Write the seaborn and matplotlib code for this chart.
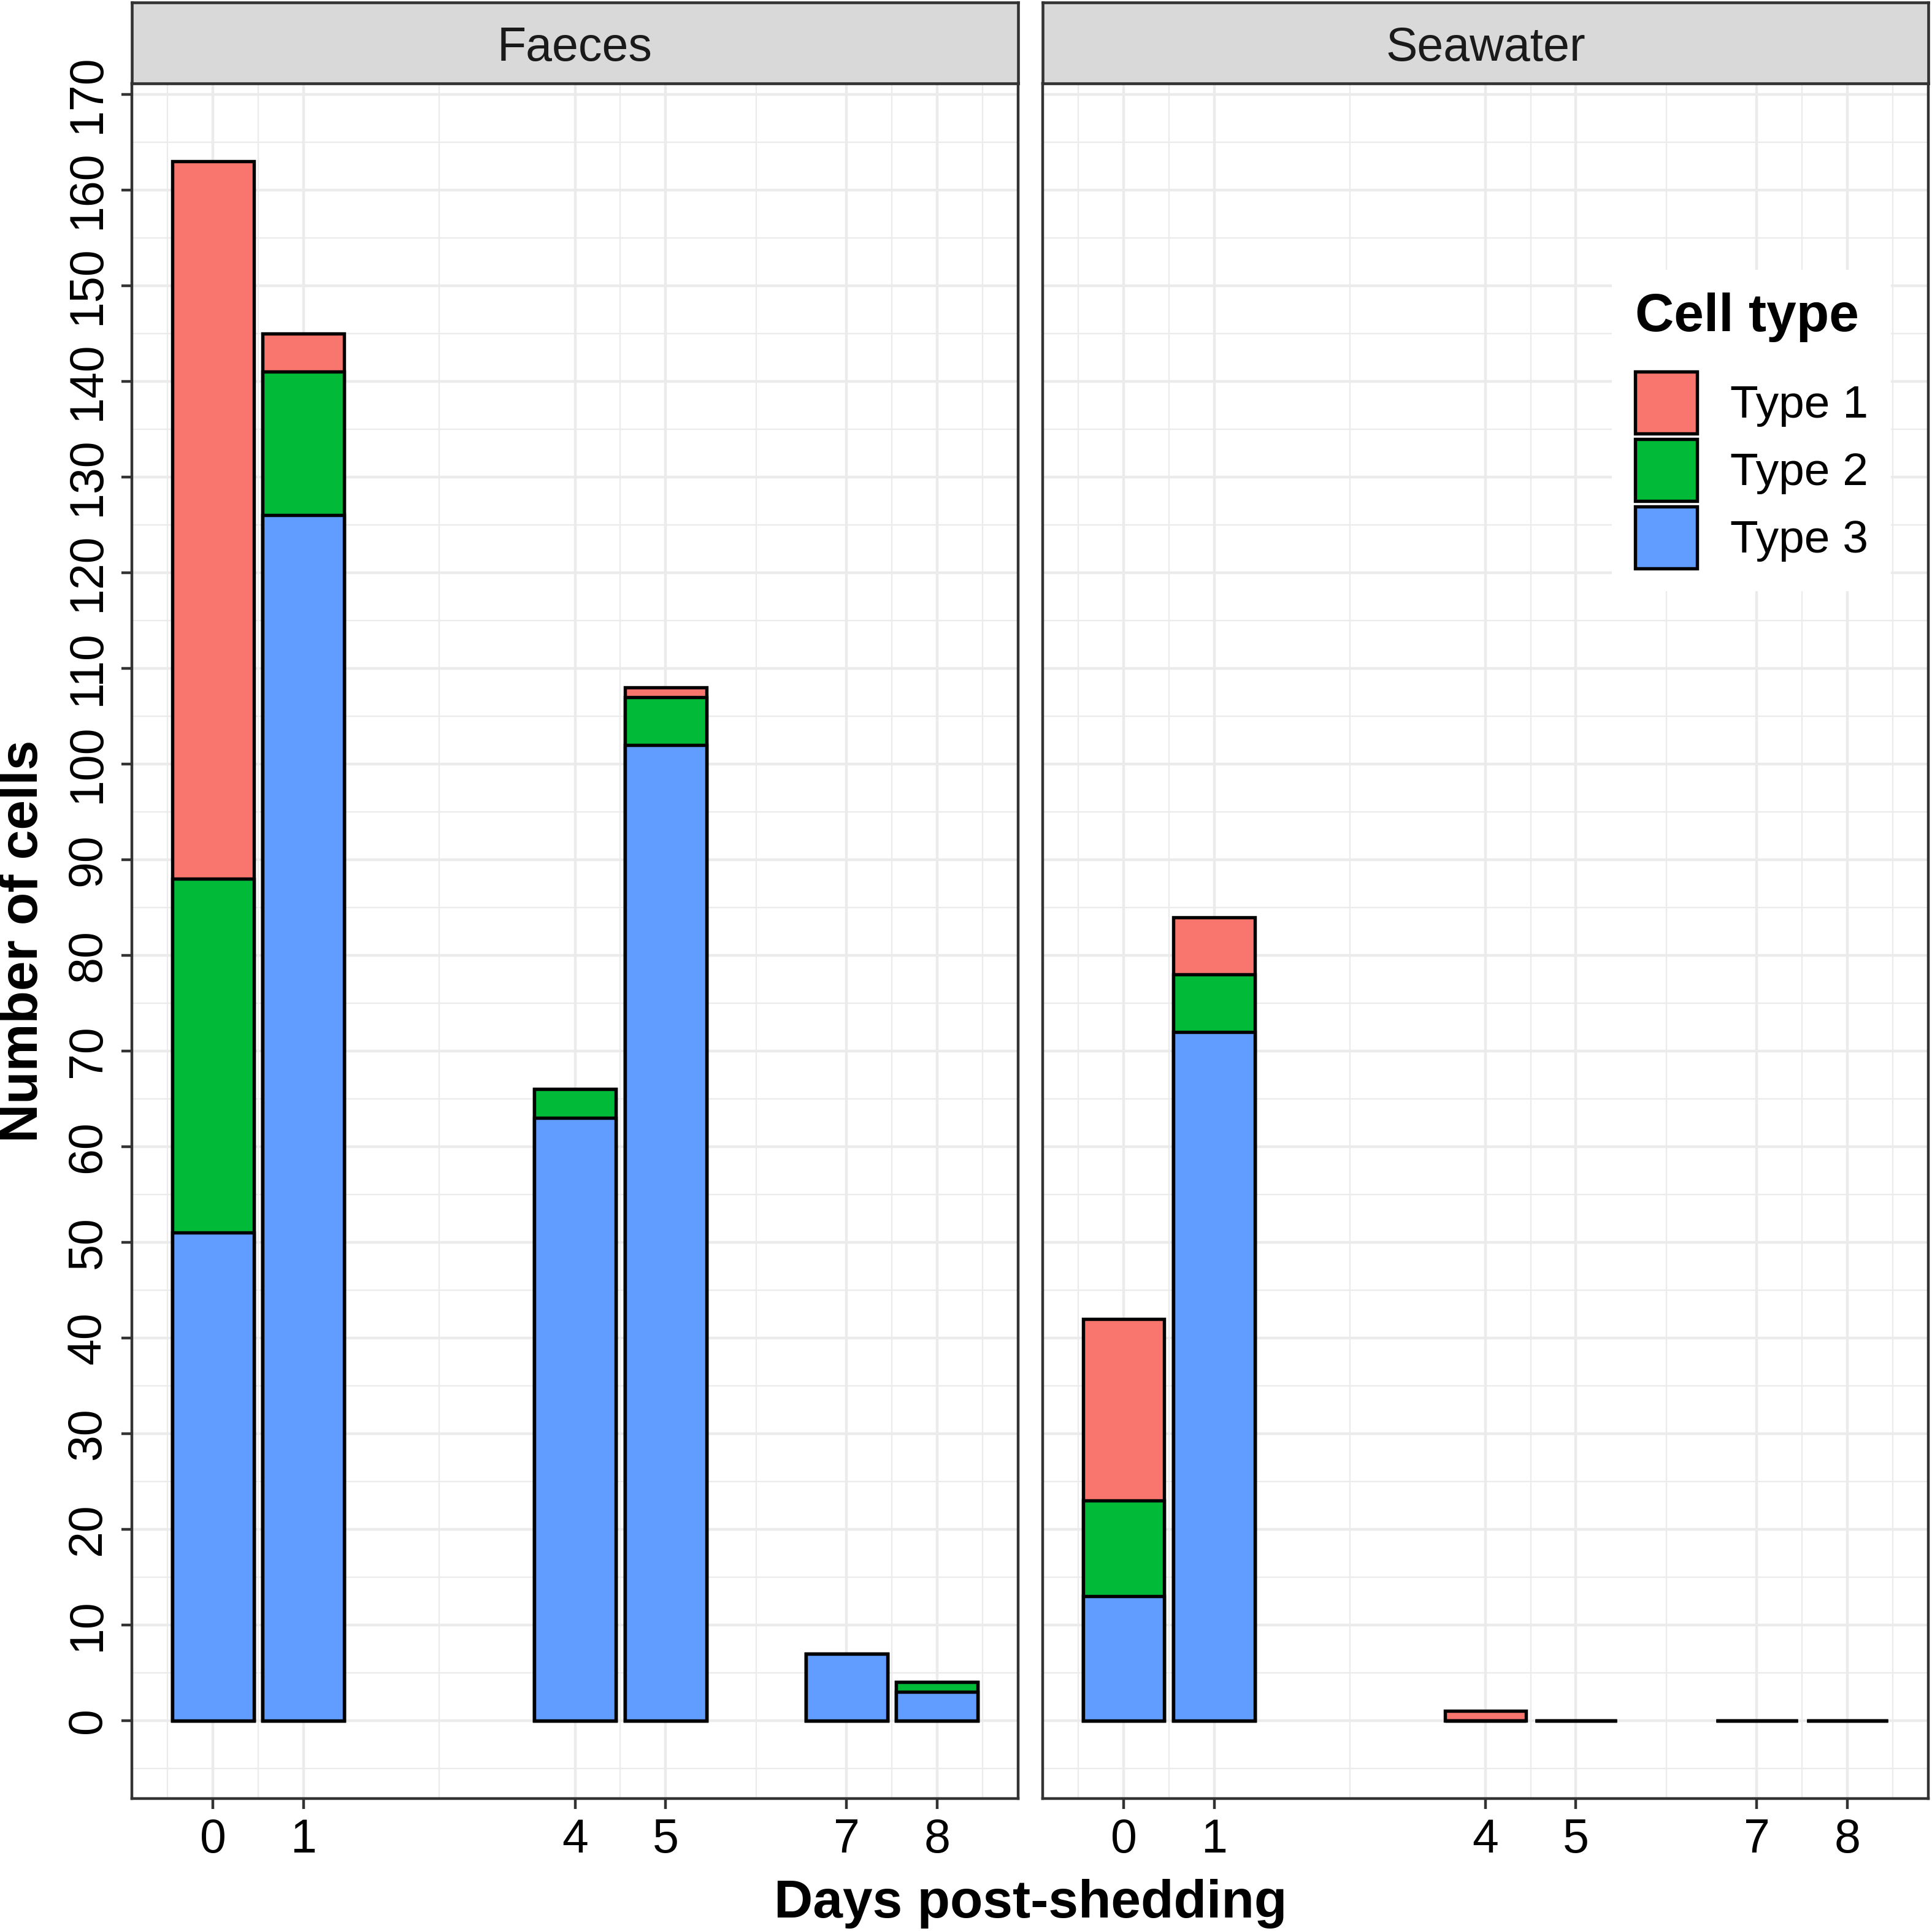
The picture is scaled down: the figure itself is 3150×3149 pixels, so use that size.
import numpy as np
import pandas as pd
import matplotlib
matplotlib.use("Agg")
import matplotlib.pyplot as plt
import seaborn as sns
from matplotlib.patches import Patch

# ---------------- data ----------------
days = [0, 1, 4, 5, 7, 8]
panels = ["Faeces", "Seawater"]
cell_types = ["Type 1", "Type 2", "Type 3"]
faeces_type1 = [75, 4, 0, 1, 0, 0]
faeces_type2 = [37, 15, 3, 5, 0, 1]
faeces_type3 = [51, 126, 63, 102, 7, 3]
seawater_type1 = [19, 6, 1, 0, 0, 0]
seawater_type2 = [10, 6, 0, 0, 0, 0]
seawater_type3 = [13, 72, 0, 0, 0, 0]
y_ticks = list(range(0, 171, 10))
palette = ["#F8766D", "#00BA38", "#619CFF"]

# ---------------- style ----------------
sns.set_style("white")
plt.rcParams["font.family"] = ["Liberation Sans", "DejaVu Sans"]
plt.rcParams["text.color"] = "black"

records = []
panel_series = {
    "Faeces": [faeces_type1, faeces_type2, faeces_type3],
    "Seawater": [seawater_type1, seawater_type2, seawater_type3],
}
for panel in panels:
    for ct, vals in zip(cell_types, panel_series[panel]):
        for d, v in zip(days, vals):
            records.append(dict(panel=panel, day=d, cell_type=ct, count=v))
df = pd.DataFrame(records)

# stacking: Type 3 at the bottom, Type 1 on top
stack_order = ["Type 3", "Type 2", "Type 1"]
df["rank"] = df["cell_type"].map({c: i for i, c in enumerate(stack_order)})
df = df.sort_values(["panel", "day", "rank"])
df["top"] = df.groupby(["panel", "day"])["count"].cumsum()

fig = plt.figure(figsize=(10.5, 3149 / 300), dpi=300)

GRID = "#EBEBEB"
DARK = "#333333"
EDGE_LW = 1.3
panel_bottom = 1 - 2933 / 3149
panel_top = 1 - 136 / 3149
strip_top = 1 - 4 / 3149
panel_x = [(215 / 3150, 1660 / 3150), (1700 / 3150, 3144 / 3150)]

minor_x = [-0.5, 0.5, 2.5, 4.5, 6, 7.5, 8.5]
minor_y = [v + 5 for v in range(-10, 170, 10)]

for i, panel in enumerate(panels):
    x0, x1 = panel_x[i]
    ax = fig.add_axes([x0, panel_bottom, x1 - x0, panel_top - panel_bottom])
    sub = df[df["panel"] == panel]
    for ct, color in zip(cell_types, palette):
        layer = sub[sub["cell_type"] == ct]
        sns.barplot(data=layer, x="day", y="top", native_scale=True, width=0.9,
                    color=color, saturation=1, edgecolor="black",
                    linewidth=EDGE_LW, errorbar=None, ax=ax)
    ax.set_xlim(-0.895, 8.895)
    ax.set_ylim(-8.15, 171.15)
    ax.set_xticks(days)
    ax.set_xticklabels([str(d) for d in days])
    ax.set_xticks(minor_x, minor=True)
    ax.set_yticks(y_ticks)
    ax.set_yticks(minor_y, minor=True)
    ax.set_axisbelow(True)
    ax.grid(which="major", color=GRID, linewidth=1.07)
    ax.grid(which="minor", color=GRID, linewidth=0.55)
    ax.set_xlabel("")
    ax.set_ylabel("")
    for s in ax.spines.values():
        s.set_color(DARK)
        s.set_linewidth(1.07)
        s.set_visible(True)
    ax.tick_params(which="minor", length=0)
    ax.tick_params(axis="x", which="major", length=4, width=1.07, color=DARK,
                   labelsize=18.5, labelcolor="black", pad=3.5, bottom=True)
    if i == 0:
        ax.tick_params(axis="y", which="major", length=4, width=1.07, color=DARK,
                       labelsize=18.5, labelcolor="black", pad=4.5, left=True)
        ax.set_yticklabels([str(v) for v in y_ticks], rotation=90, va="center")
    else:
        ax.tick_params(axis="y", which="both", left=False, labelleft=False)

    # facet strip
    sax = fig.add_axes([x0, panel_top, x1 - x0, strip_top - panel_top])
    sax.set_facecolor("#D9D9D9")
    sax.set_xticks([])
    sax.set_yticks([])
    for s in sax.spines.values():
        s.set_color(DARK)
        s.set_linewidth(1.1)
    sax.text(0.5, 0.282, panel, ha="center", va="baseline", fontsize=18.5,
             color="#1A1A1A", transform=sax.transAxes)

fig.text(1680 / 3150, 1 - 3127 / 3149, "Days post-shedding", ha="center",
         va="baseline", fontsize=21, fontweight="bold", color="black")
fig.text(38.5 / 3150, 1 - 1535 / 3149, "Number of cells", rotation=90,
         ha="center", va="center", fontsize=21, fontweight="bold", color="black")

handles = [Patch(facecolor=c, edgecolor="black", linewidth=EDGE_LW) for c in palette]
leg = fig.legend(handles, cell_types, title="Cell type", loc="upper left",
                 bbox_to_anchor=(2628 / 3150, 1 - 440 / 3149),
                 bbox_transform=fig.transFigure, frameon=True, fancybox=False,
                 framealpha=1, fontsize=18, labelcolor="black",
                 title_fontproperties={"weight": "bold", "size": 21},
                 handlelength=1.35, handleheight=1.69, handletextpad=0.72,
                 labelspacing=0.12, borderpad=0.5, borderaxespad=0,
                 alignment="left")
leg.get_title().set_color("black")
leg.get_frame().set_facecolor("white")
leg.get_frame().set_edgecolor("none")
leg._legend_box.sep = 11.5

fig.savefig("out.png", dpi=300)
